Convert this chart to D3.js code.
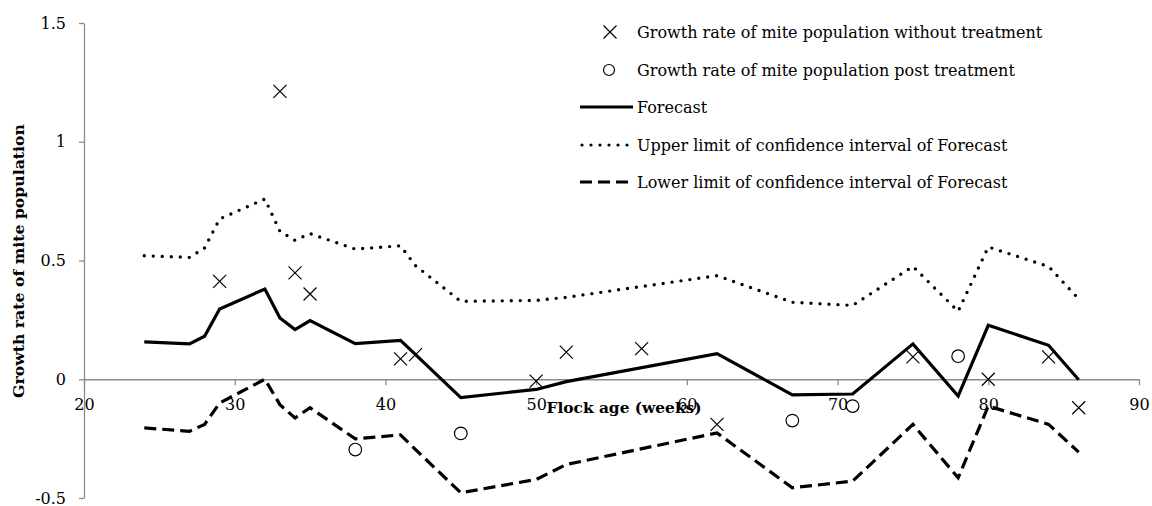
<!DOCTYPE html>
<html lang="en">
<head>
<meta charset="UTF-8">
<script src="https://cdn.jsdelivr.net/npm/d3@7"></script>
<title>Mite growth rate forecast</title>
<style>
    body { margin: 0; background: #fff; }
    svg text { font-family: "DejaVu Serif", "Liberation Serif", serif; fill: #000; }
    .axis path, .axis line { stroke: #8c8c8c; stroke-width: 1.3; }
</style>
</head>
<body>
<svg width="1152" height="506"></svg>
<script>
    // forecast series (weeks)
    var weeks = [24, 27, 28, 29, 32, 33, 34, 35, 38, 41, 42, 45, 50, 52, 62, 67, 71, 75, 78, 80, 84, 86];
    var forecast = [0.157, 0.149, 0.181, 0.296, 0.38, 0.258, 0.209, 0.247, 0.15, 0.164, 0.104, -0.077, -0.043, -0.01, 0.108, -0.066, -0.062, 0.149, -0.071, 0.227, 0.143, -0.002];
    var upper = [0.52, 0.513, 0.553, 0.675, 0.759, 0.623, 0.585, 0.613, 0.548, 0.562, 0.478, 0.328, 0.332, 0.345, 0.436, 0.324, 0.311, 0.475, 0.286, 0.557, 0.475, 0.338];
    var lower = [-0.205, -0.219, -0.19, -0.1, 0.0, -0.107, -0.163, -0.12, -0.251, -0.234, -0.296, -0.478, -0.422, -0.359, -0.226, -0.457, -0.429, -0.19, -0.415, -0.113, -0.19, -0.307];

    // observed growth rates
    var noTreatWeeks = [29, 33, 34, 35, 41, 42, 50, 52, 57, 62, 75, 80, 84, 86];
    var noTreatRate = [0.412, 1.212, 0.448, 0.359, 0.086, 0.104, -0.008, 0.114, 0.129, -0.19, 0.094, 0.0, 0.094, -0.12];
    var postWeeks = [38, 45, 67, 71, 78];
    var postRate = [-0.296, -0.228, -0.174, -0.113, 0.097];

    var xTicks = [20, 30, 40, 50, 60, 70, 80, 90];
    var yTicks = [-0.5, 0, 0.5, 1, 1.5];
    var legendNames = [
        "Growth rate of mite population without treatment",
        "Growth rate of mite population post treatment",
        "Forecast",
        "Upper limit of confidence interval of Forecast",
        "Lower limit of confidence interval of Forecast"
    ];

    var svg = d3.select("svg");
    var x = d3.scaleLinear().domain([20, 90]).range([84, 1139]);
    var y = d3.scaleLinear().domain([-0.5, 1.5]).range([498, 23]);

    svg.append("g")
        .attr("class", "axis")
        .attr("transform", "translate(84,0)")
        .call(d3.axisLeft(y).tickValues(yTicks).tickSize(5).tickSizeOuter(0).tickPadding(13).tickFormat(String))
        .call(function (g) {
            g.selectAll("text").style("font-size", "16px");
        });

    svg.append("g")
        .attr("class", "axis")
        .attr("transform", "translate(0," + y(0) + ")")
        .call(d3.axisBottom(x).tickValues(xTicks).tickSize(6).tickSizeOuter(0).tickPadding(13).tickFormat(String))
        .call(function (g) {
            g.selectAll("text").style("font-size", "16px");
        });

    svg.append("text")
        .attr("transform", "translate(24,261) rotate(-90)")
        .attr("text-anchor", "middle")
        .style("font-size", "15.7px")
        .style("font-weight", "bold")
        .text("Growth rate of mite population");

    svg.append("text")
        .attr("x", 624)
        .attr("y", 413)
        .attr("text-anchor", "middle")
        .style("font-size", "15.4px")
        .style("font-weight", "bold")
        .text("Flock age (weeks)");

    var line = d3.line()
        .x(function (d) { return x(d[0]); })
        .y(function (d) { return y(d[1]); });

    var styles = [
        {data: upper, dash: "0,9", width: 3.4, cap: "round"},
        {data: lower, dash: "12,6", width: 3.2, cap: "butt"},
        {data: forecast, dash: null, width: 3.2, cap: "butt"}
    ];
    styles.forEach(function (s) {
        svg.append("path")
            .datum(d3.zip(weeks, s.data))
            .attr("d", line)
            .attr("fill", "none")
            .attr("stroke", "#000")
            .attr("stroke-width", s.width)
            .attr("stroke-linecap", s.cap)
            .attr("stroke-linejoin", "miter")
            .attr("stroke-dasharray", s.dash);
    });

    function cross(g, cx, cy) {
        var r = 6.5;
        g.append("path")
            .attr("d", "M" + (cx - r) + "," + (cy - r) + "L" + (cx + r) + "," + (cy + r) +
                "M" + (cx - r) + "," + (cy + r) + "L" + (cx + r) + "," + (cy - r))
            .attr("stroke", "#000")
            .attr("stroke-width", 1.2)
            .attr("fill", "none");
    }

    var marks = svg.append("g");
    d3.zip(noTreatWeeks, noTreatRate).forEach(function (d) {
        cross(marks, x(d[0]), y(d[1]));
    });
    marks.selectAll("circle")
        .data(d3.zip(postWeeks, postRate))
        .enter()
        .append("circle")
        .attr("cx", function (d) { return x(d[0]); })
        .attr("cy", function (d) { return y(d[1]); })
        .attr("r", 6.3)
        .attr("fill", "#fff")
        .attr("stroke", "#000")
        .attr("stroke-width", 1.2);

    // legend
    var legend = svg.append("g");
    var rowY = [32, 70, 107, 145, 182];
    legendNames.forEach(function (name, i) {
        legend.append("text")
            .attr("x", 637)
            .attr("y", rowY[i] + 5.5)
            .style("font-size", "16px")
            .text(name);
    });
    cross(legend, 610, rowY[0]);
    legend.append("circle")
        .attr("cx", 609).attr("cy", rowY[1]).attr("r", 5.5)
        .attr("fill", "#fff").attr("stroke", "#000").attr("stroke-width", 1.2);
    legend.append("line")
        .attr("x1", 580).attr("x2", 633).attr("y1", rowY[2]).attr("y2", rowY[2])
        .attr("stroke", "#000").attr("stroke-width", 3.2);
    legend.append("line")
        .attr("x1", 582).attr("x2", 633).attr("y1", rowY[3]).attr("y2", rowY[3])
        .attr("stroke", "#000").attr("stroke-width", 3.2)
        .attr("stroke-linecap", "round").attr("stroke-dasharray", "0,9");
    legend.append("line")
        .attr("x1", 580).attr("x2", 633).attr("y1", rowY[4]).attr("y2", rowY[4])
        .attr("stroke", "#000").attr("stroke-width", 3.2)
        .attr("stroke-dasharray", "12,6");
</script>
</body>
</html>
